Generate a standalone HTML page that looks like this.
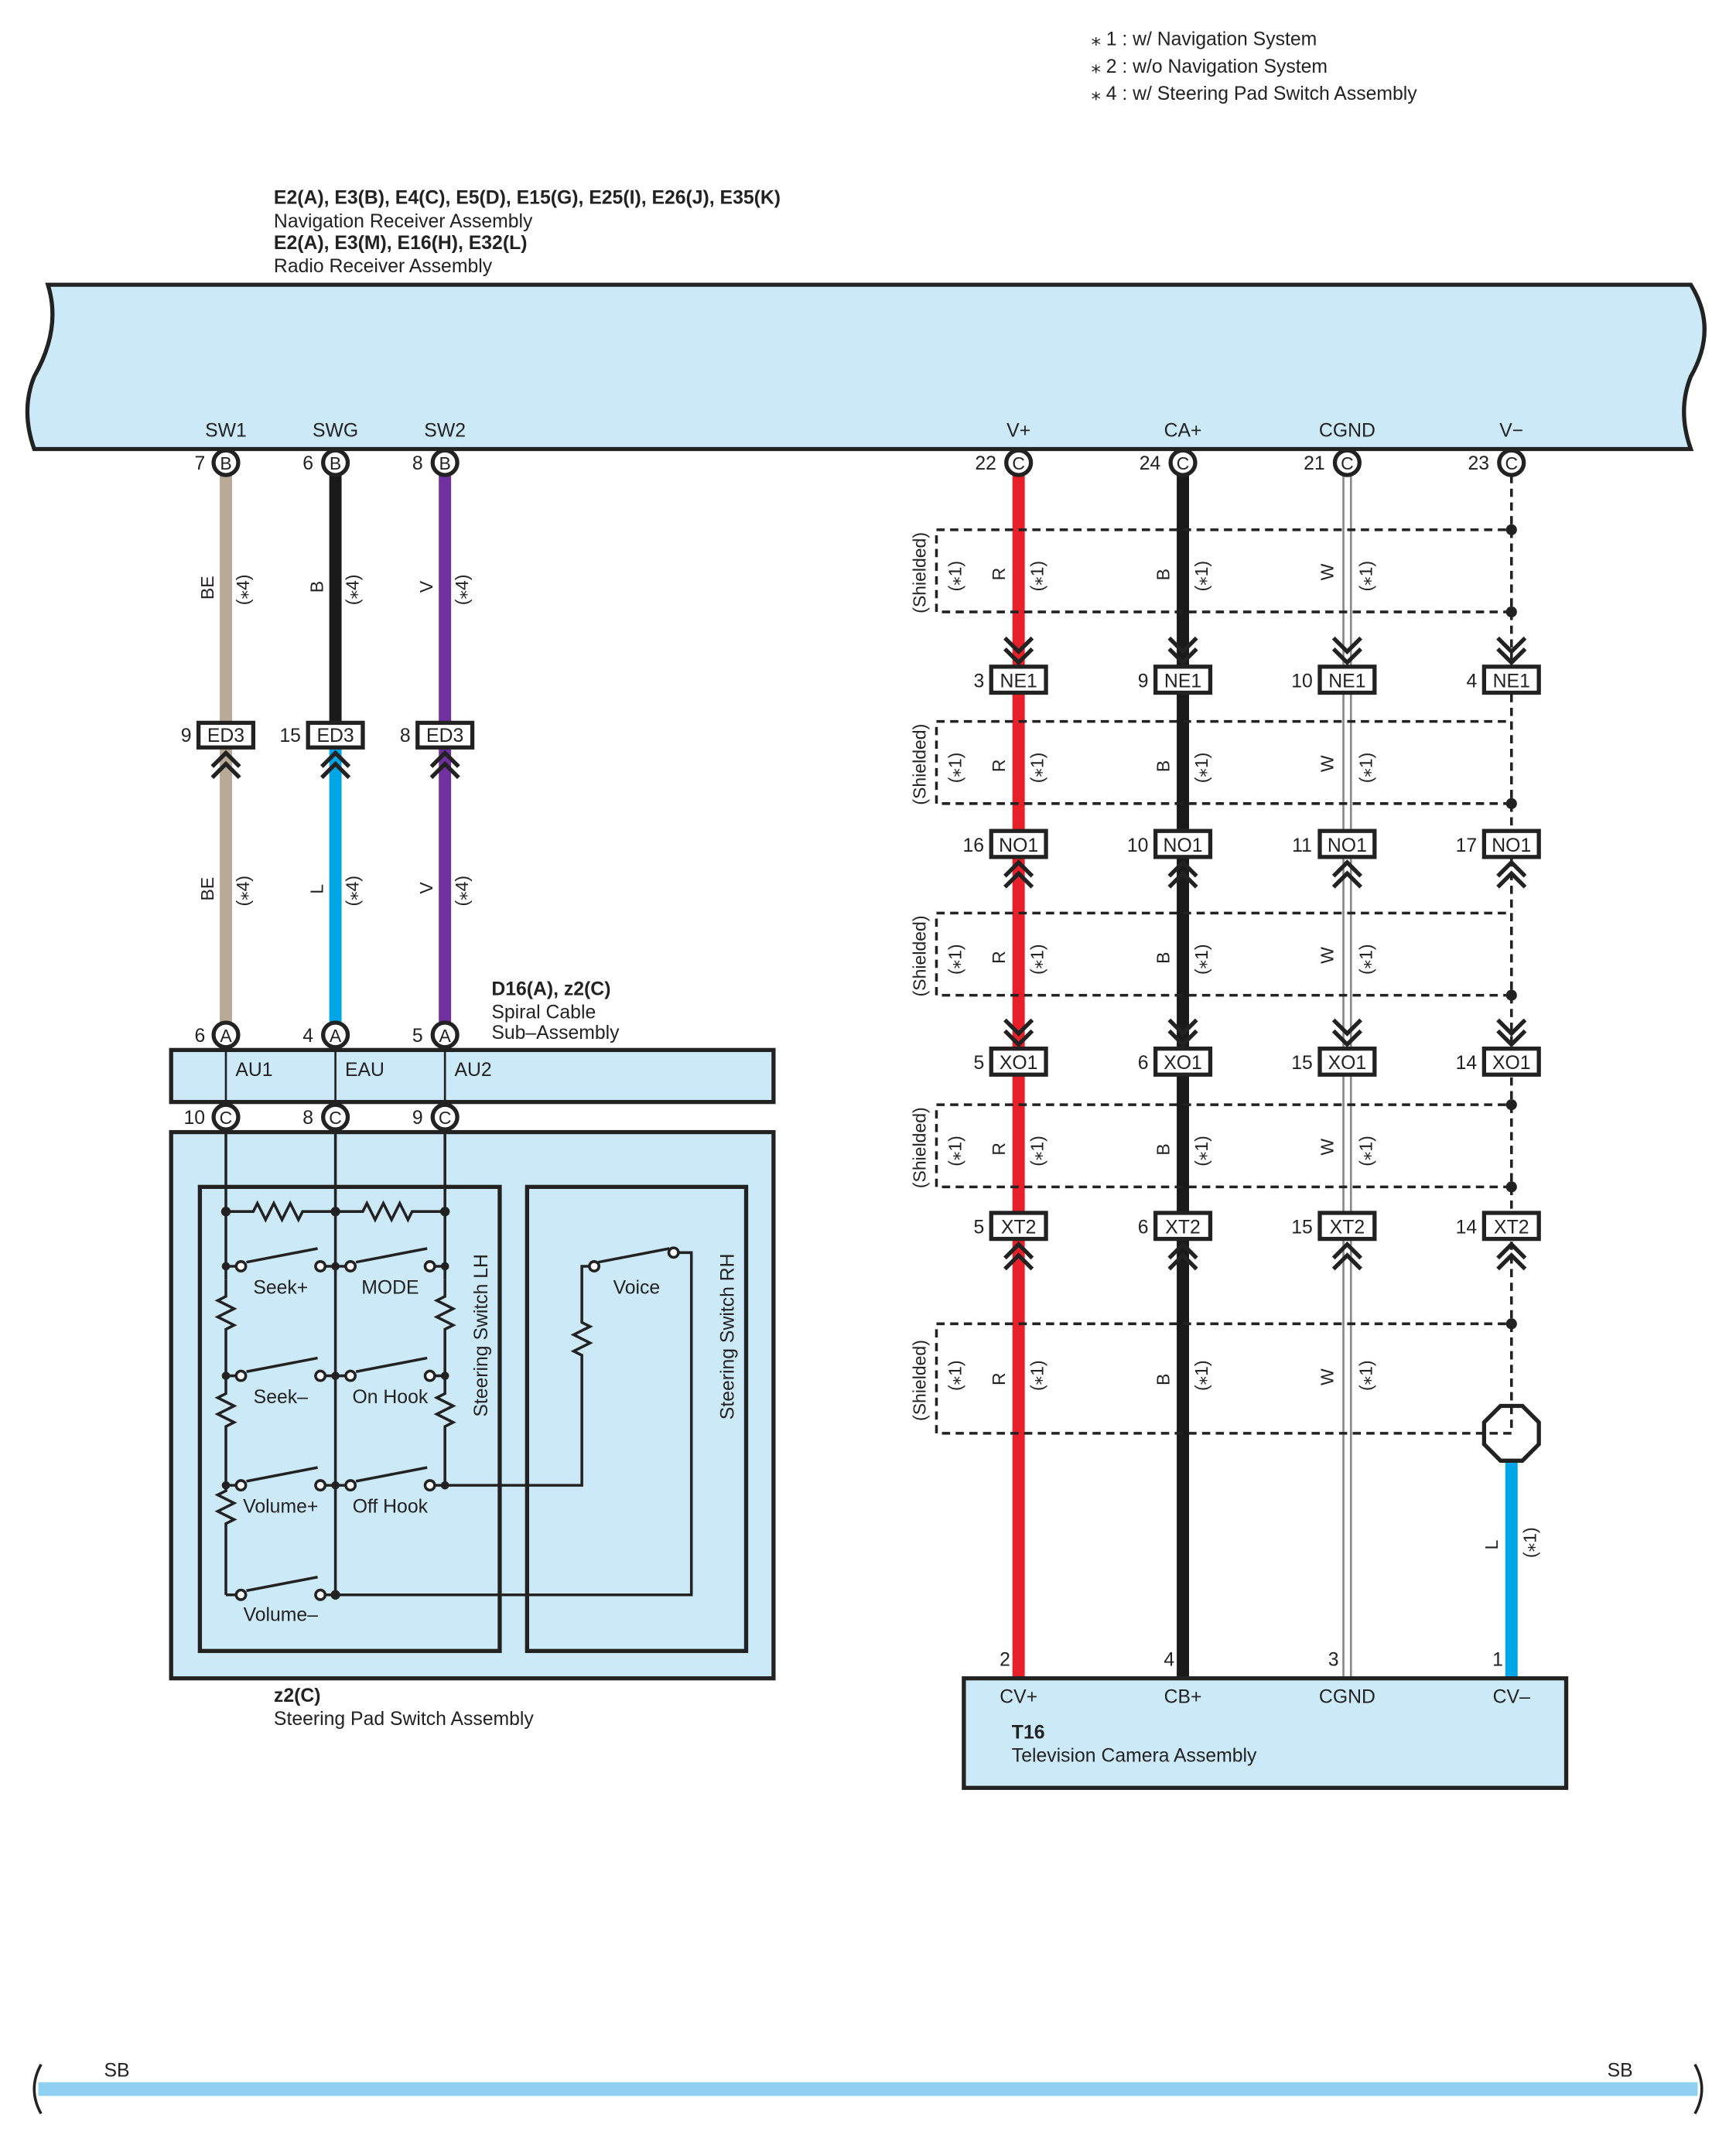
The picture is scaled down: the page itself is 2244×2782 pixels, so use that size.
<!DOCTYPE html>
<html><head><meta charset="utf-8"><style>
html,body{margin:0;padding:0;background:#fff}
svg{display:block}
text{font-family:"Liberation Sans",sans-serif;fill:#222}
</style></head><body>
<svg width="2244" height="2782" viewBox="0 0 1268 1572" preserveAspectRatio="none" xmlns="http://www.w3.org/2000/svg">
<defs>
<g id="chU"><polyline points="-10,12 0,2 10,12" fill="none" stroke="#222" stroke-width="3"/><polyline points="-10,20 0,10 10,20" fill="none" stroke="#222" stroke-width="3"/></g>
<g id="chD"><polyline points="-10,-12 0,-2 10,-12" fill="none" stroke="#222" stroke-width="3"/><polyline points="-10,-20 0,-10 10,-20" fill="none" stroke="#222" stroke-width="3"/></g>
</defs>
<g font-size="14">
<text x="797" y="33">⁎ 1 : w/ Navigation System</text>
<text x="797" y="53">⁎ 2 : w/o Navigation System</text>
<text x="797" y="73">⁎ 4 : w/ Steering Pad Switch Assembly</text>
<text x="200" y="149" font-weight="bold">E2(A), E3(B), E4(C), E5(D), E15(G), E25(I), E26(J), E35(K)</text>
<text x="200" y="166">Navigation Receiver Assembly</text>
<text x="200" y="182" font-weight="bold">E2(A), E3(M), E16(H), E32(L)</text>
<text x="200" y="199">Radio Receiver Assembly</text>
</g>
<path d="M35,208 L1235,208 Q1255,240 1235,275 Q1225,300 1235,328 L25,328 Q15,300 25,275 Q45,240 35,208 Z" fill="#cce9f8" stroke="#222" stroke-width="3"/>
<g font-size="14" text-anchor="middle">
<text x="165" y="319">SW1</text><text x="245" y="319">SWG</text><text x="325" y="319">SW2</text>
<text x="744" y="319">V+</text><text x="864" y="319">CA+</text><text x="984" y="319">CGND</text><text x="1104" y="319">V−</text>
</g>
<line x1="165" y1="347" x2="165" y2="528" stroke="#b9aa98" stroke-width="9"/>
<line x1="245" y1="347" x2="245" y2="528" stroke="#1a1a1a" stroke-width="9"/>
<line x1="325" y1="347" x2="325" y2="528" stroke="#7030a0" stroke-width="9"/>
<line x1="165" y1="546" x2="165" y2="748" stroke="#b9aa98" stroke-width="9"/>
<line x1="245" y1="546" x2="245" y2="748" stroke="#00a6e6" stroke-width="9"/>
<line x1="325" y1="546" x2="325" y2="748" stroke="#7030a0" stroke-width="9"/>
<g font-size="13">
<text transform="translate(156,438) rotate(-90)">BE</text><text transform="translate(182,442) rotate(-90)">(⁎4)</text>
<text transform="translate(236,433) rotate(-90)">B</text><text transform="translate(262,442) rotate(-90)">(⁎4)</text>
<text transform="translate(316,433) rotate(-90)">V</text><text transform="translate(342,442) rotate(-90)">(⁎4)</text>
<text transform="translate(156,658) rotate(-90)">BE</text><text transform="translate(182,662) rotate(-90)">(⁎4)</text>
<text transform="translate(236,653) rotate(-90)">L</text><text transform="translate(262,662) rotate(-90)">(⁎4)</text>
<text transform="translate(316,653) rotate(-90)">V</text><text transform="translate(342,662) rotate(-90)">(⁎4)</text>
</g>
<g font-size="14" text-anchor="middle">
<rect x="145" y="528" width="40" height="18" fill="#fff" stroke="#222" stroke-width="3"/><text x="165" y="542">ED3</text><text x="136" y="542">9</text>
<rect x="225" y="528" width="40" height="18" fill="#fff" stroke="#222" stroke-width="3"/><text x="245" y="542">ED3</text><text x="212" y="542">15</text>
<rect x="305" y="528" width="40" height="18" fill="#fff" stroke="#222" stroke-width="3"/><text x="325" y="542">ED3</text><text x="296" y="542">8</text>
</g>
<use href="#chU" x="165" y="548"/><use href="#chU" x="245" y="548"/><use href="#chU" x="325" y="548"/>
<g font-size="14"><text x="359" y="727" font-weight="bold">D16(A), z2(C)</text><text x="359" y="744">Spiral Cable</text><text x="359" y="759">Sub–Assembly</text></g>
<rect x="125" y="767" width="440" height="38" fill="#cce9f8" stroke="#222" stroke-width="3"/>
<line x1="165" y1="765" x2="165" y2="807" stroke="#222" stroke-width="1.5"/><line x1="245" y1="765" x2="245" y2="807" stroke="#222" stroke-width="1.5"/><line x1="325" y1="765" x2="325" y2="807" stroke="#222" stroke-width="1.5"/>
<g font-size="14"><text x="172" y="786">AU1</text><text x="252" y="786">EAU</text><text x="332" y="786">AU2</text></g>
<rect x="125" y="827" width="440" height="399" fill="#cce9f8" stroke="#222" stroke-width="3"/>
<rect x="146" y="867" width="219" height="339" fill="none" stroke="#222" stroke-width="3"/>
<rect x="385" y="867" width="160" height="339" fill="none" stroke="#222" stroke-width="3"/>
<g font-size="14"><text transform="translate(356,1035) rotate(-90)">Steering Switch LH</text><text transform="translate(536,1037) rotate(-90)">Steering Switch RH</text>
<text x="200" y="1243" font-weight="bold">z2(C)</text><text x="200" y="1260">Steering Pad Switch Assembly</text></g>
<g stroke="#222" stroke-width="2" fill="none">
<line x1="165" y1="825" x2="165" y2="935"/><line x1="245" y1="825" x2="245" y2="1165"/><line x1="325" y1="825" x2="325" y2="935"/>
<path d="M165,885 H185 l3,-6 l6,12 l6,-12 l6,12 l6,-12 l6,12 l3,-6 H265 l3,-6 l6,12 l6,-12 l6,12 l6,-12 l6,12 l3,-6 H325"/>
<path d="M165,935 v12 l-6,3 l12,6 l-12,6 l12,6 l-6,3 v8 v31 v8 l-6,3 l12,6 l-12,6 l12,6 l-6,3 v8 v31 v8 l-6,3 l12,6 l-12,6 l12,6 l-6,3 v8 V1165"/>
<path d="M325,935 v12 l-6,3 l12,6 l-12,6 l12,6 l-6,3 v8 v31 v8 l-6,3 l12,6 l-12,6 l12,6 l-6,3 v8 V1085"/>
<path d="M165,925 H173 M180,922 L232,912 M237,925 H245 M245,925 H253 M260,922 L312,912 M317,925 H325"/>
<path d="M165,1005 H173 M180,1002 L232,992 M237,1005 H245 M245,1005 H253 M260,1002 L312,992 M317,1005 H325"/>
<path d="M165,1085 H173 M180,1082 L232,1072 M237,1085 H245 M245,1085 H253 M260,1082 L312,1072 M317,1085 H425 V990 l-6,-3 l12,-6 l-12,-6 l12,-6 l-6,-3 V925 H430 M437,922 L489,912 M495,915 H505 V1165 H245"/>
<path d="M165,1165 H173 M180,1162 L232,1152 M237,1165 H245"/>
</g>
<g fill="#fff" stroke="#222" stroke-width="2">
<circle cx="176" cy="925" r="3.5"/><circle cx="234" cy="925" r="3.5"/><circle cx="256" cy="925" r="3.5"/><circle cx="314" cy="925" r="3.5"/>
<circle cx="176" cy="1005" r="3.5"/><circle cx="234" cy="1005" r="3.5"/><circle cx="256" cy="1005" r="3.5"/><circle cx="314" cy="1005" r="3.5"/>
<circle cx="176" cy="1085" r="3.5"/><circle cx="234" cy="1085" r="3.5"/><circle cx="256" cy="1085" r="3.5"/><circle cx="314" cy="1085" r="3.5"/>
<circle cx="176" cy="1165" r="3.5"/><circle cx="234" cy="1165" r="3.5"/>
<circle cx="434" cy="925" r="3.5"/><circle cx="492" cy="915" r="3.5"/>
</g>
<g fill="#222"><circle cx="165" cy="885" r="3.5"/><circle cx="245" cy="885" r="3.5"/><circle cx="325" cy="885" r="3.5"/><circle cx="165" cy="925" r="3"/><circle cx="245" cy="925" r="3"/><circle cx="325" cy="925" r="3"/><circle cx="165" cy="1005" r="3"/><circle cx="245" cy="1005" r="3"/><circle cx="325" cy="1005" r="3"/><circle cx="165" cy="1085" r="3"/><circle cx="245" cy="1085" r="3"/><circle cx="325" cy="1085" r="3"/><circle cx="245" cy="1165" r="3.5"/></g>
<g font-size="14" text-anchor="middle">
<text x="205" y="945">Seek+</text><text x="285" y="945">MODE</text><text x="205" y="1025">Seek–</text><text x="285" y="1025">On Hook</text>
<text x="205" y="1105">Volume+</text><text x="285" y="1105">Off Hook</text><text x="205" y="1184">Volume–</text><text x="465" y="945">Voice</text>
</g>
<line x1="744" y1="347" x2="744" y2="1226" stroke="#e8202a" stroke-width="9"/>
<line x1="864" y1="347" x2="864" y2="1226" stroke="#1a1a1a" stroke-width="9"/>
<line x1="984" y1="347" x2="984" y2="1226" stroke="#888" stroke-width="7"/>
<line x1="984" y1="347" x2="984" y2="1226" stroke="#fff" stroke-width="4"/>
<line x1="1104" y1="347" x2="1104" y2="1027" stroke="#222" stroke-width="2" stroke-dasharray="6,4"/>
<line x1="1104" y1="1067" x2="1104" y2="1226" stroke="#00a6e6" stroke-width="9"/>
<polygon points="1096,1027 1112,1027 1124,1039 1124,1055 1112,1067 1096,1067 1084,1055 1084,1039" fill="#fff" stroke="#222" stroke-width="3"/>
<g fill="none" stroke="#222" stroke-width="2" stroke-dasharray="6,4">
<rect x="684" y="387" width="420" height="60"/><rect x="684" y="527" width="420" height="60"/><rect x="684" y="667" width="420" height="60"/><rect x="684" y="807" width="420" height="60"/><rect x="684" y="967" width="420" height="80"/>
</g>
<g fill="#222"><circle cx="1104" cy="387" r="4"/><circle cx="1104" cy="447" r="4"/><circle cx="1104" cy="587" r="4"/><circle cx="1104" cy="727" r="4"/><circle cx="1104" cy="807" r="4"/><circle cx="1104" cy="867" r="4"/><circle cx="1104" cy="967" r="4"/></g>
<g font-size="13">
<text transform="translate(676,448) rotate(-90)">(Shielded)</text><text transform="translate(702,432) rotate(-90)">(⁎1)</text><text transform="translate(734,424) rotate(-90)">R</text><text transform="translate(762,432) rotate(-90)">(⁎1)</text><text transform="translate(854,424) rotate(-90)">B</text><text transform="translate(882,432) rotate(-90)">(⁎1)</text><text transform="translate(974,424) rotate(-90)">W</text><text transform="translate(1002,432) rotate(-90)">(⁎1)</text>
<text transform="translate(676,588) rotate(-90)">(Shielded)</text><text transform="translate(702,572) rotate(-90)">(⁎1)</text><text transform="translate(734,564) rotate(-90)">R</text><text transform="translate(762,572) rotate(-90)">(⁎1)</text><text transform="translate(854,564) rotate(-90)">B</text><text transform="translate(882,572) rotate(-90)">(⁎1)</text><text transform="translate(974,564) rotate(-90)">W</text><text transform="translate(1002,572) rotate(-90)">(⁎1)</text>
<text transform="translate(676,728) rotate(-90)">(Shielded)</text><text transform="translate(702,712) rotate(-90)">(⁎1)</text><text transform="translate(734,704) rotate(-90)">R</text><text transform="translate(762,712) rotate(-90)">(⁎1)</text><text transform="translate(854,704) rotate(-90)">B</text><text transform="translate(882,712) rotate(-90)">(⁎1)</text><text transform="translate(974,704) rotate(-90)">W</text><text transform="translate(1002,712) rotate(-90)">(⁎1)</text>
<text transform="translate(676,868) rotate(-90)">(Shielded)</text><text transform="translate(702,852) rotate(-90)">(⁎1)</text><text transform="translate(734,844) rotate(-90)">R</text><text transform="translate(762,852) rotate(-90)">(⁎1)</text><text transform="translate(854,844) rotate(-90)">B</text><text transform="translate(882,852) rotate(-90)">(⁎1)</text><text transform="translate(974,844) rotate(-90)">W</text><text transform="translate(1002,852) rotate(-90)">(⁎1)</text>
<text transform="translate(676,1038) rotate(-90)">(Shielded)</text><text transform="translate(702,1016) rotate(-90)">(⁎1)</text><text transform="translate(734,1012) rotate(-90)">R</text><text transform="translate(762,1016) rotate(-90)">(⁎1)</text><text transform="translate(854,1012) rotate(-90)">B</text><text transform="translate(882,1016) rotate(-90)">(⁎1)</text><text transform="translate(974,1012) rotate(-90)">W</text><text transform="translate(1002,1016) rotate(-90)">(⁎1)</text>
<text transform="translate(1094,1132) rotate(-90)">L</text><text transform="translate(1122,1138) rotate(-90)">(⁎1)</text>
</g>
<use href="#chD" x="744" y="486"/><use href="#chD" x="864" y="486"/><use href="#chD" x="984" y="486"/><use href="#chD" x="1104" y="486"/>
<use href="#chU" x="744" y="628"/><use href="#chU" x="864" y="628"/><use href="#chU" x="984" y="628"/><use href="#chU" x="1104" y="628"/>
<use href="#chD" x="744" y="765"/><use href="#chD" x="864" y="765"/><use href="#chD" x="984" y="765"/><use href="#chD" x="1104" y="765"/>
<use href="#chU" x="744" y="907"/><use href="#chU" x="864" y="907"/><use href="#chU" x="984" y="907"/><use href="#chU" x="1104" y="907"/>
<g font-size="14" text-anchor="middle">
<rect x="724" y="487" width="40" height="19" fill="#fff" stroke="#222" stroke-width="3"/><text x="744" y="502">NE1</text><text x="715" y="502">3</text>
<rect x="844" y="487" width="40" height="19" fill="#fff" stroke="#222" stroke-width="3"/><text x="864" y="502">NE1</text><text x="835" y="502">9</text>
<rect x="964" y="487" width="40" height="19" fill="#fff" stroke="#222" stroke-width="3"/><text x="984" y="502">NE1</text><text x="951" y="502">10</text>
<rect x="1084" y="487" width="40" height="19" fill="#fff" stroke="#222" stroke-width="3"/><text x="1104" y="502">NE1</text><text x="1075" y="502">4</text>
<rect x="724" y="607" width="40" height="19" fill="#fff" stroke="#222" stroke-width="3"/><text x="744" y="622">NO1</text><text x="711" y="622">16</text>
<rect x="844" y="607" width="40" height="19" fill="#fff" stroke="#222" stroke-width="3"/><text x="864" y="622">NO1</text><text x="831" y="622">10</text>
<rect x="964" y="607" width="40" height="19" fill="#fff" stroke="#222" stroke-width="3"/><text x="984" y="622">NO1</text><text x="951" y="622">11</text>
<rect x="1084" y="607" width="40" height="19" fill="#fff" stroke="#222" stroke-width="3"/><text x="1104" y="622">NO1</text><text x="1071" y="622">17</text>
<rect x="724" y="766" width="40" height="19" fill="#fff" stroke="#222" stroke-width="3"/><text x="744" y="781">XO1</text><text x="715" y="781">5</text>
<rect x="844" y="766" width="40" height="19" fill="#fff" stroke="#222" stroke-width="3"/><text x="864" y="781">XO1</text><text x="835" y="781">6</text>
<rect x="964" y="766" width="40" height="19" fill="#fff" stroke="#222" stroke-width="3"/><text x="984" y="781">XO1</text><text x="951" y="781">15</text>
<rect x="1084" y="766" width="40" height="19" fill="#fff" stroke="#222" stroke-width="3"/><text x="1104" y="781">XO1</text><text x="1071" y="781">14</text>
<rect x="724" y="886" width="40" height="19" fill="#fff" stroke="#222" stroke-width="3"/><text x="744" y="901">XT2</text><text x="715" y="901">5</text>
<rect x="844" y="886" width="40" height="19" fill="#fff" stroke="#222" stroke-width="3"/><text x="864" y="901">XT2</text><text x="835" y="901">6</text>
<rect x="964" y="886" width="40" height="19" fill="#fff" stroke="#222" stroke-width="3"/><text x="984" y="901">XT2</text><text x="951" y="901">15</text>
<rect x="1084" y="886" width="40" height="19" fill="#fff" stroke="#222" stroke-width="3"/><text x="1104" y="901">XT2</text><text x="1071" y="901">14</text>
</g>
<g font-size="13" text-anchor="middle">
<g fill="#fff" stroke="#222" stroke-width="3">
<circle cx="165" cy="338" r="9"/><circle cx="245" cy="338" r="9"/><circle cx="325" cy="338" r="9"/>
<circle cx="744" cy="338" r="9"/><circle cx="864" cy="338" r="9"/><circle cx="984" cy="338" r="9"/><circle cx="1104" cy="338" r="9"/>
<circle cx="165" cy="756" r="9"/><circle cx="245" cy="756" r="9"/><circle cx="325" cy="756" r="9"/>
<circle cx="165" cy="816" r="9"/><circle cx="245" cy="816" r="9"/><circle cx="325" cy="816" r="9"/>
</g>
<text x="165" y="343">B</text><text x="245" y="343">B</text><text x="325" y="343">B</text>
<text x="744" y="343">C</text><text x="864" y="343">C</text><text x="984" y="343">C</text><text x="1104" y="343">C</text>
<text x="165" y="761">A</text><text x="245" y="761">A</text><text x="325" y="761">A</text>
<text x="165" y="821">C</text><text x="245" y="821">C</text><text x="325" y="821">C</text>
<g font-size="14"><text x="146" y="343">7</text><text x="225" y="343">6</text><text x="305" y="343">8</text>
<text x="720" y="343">22</text><text x="840" y="343">24</text><text x="960" y="343">21</text><text x="1080" y="343">23</text>
<text x="146" y="761">6</text><text x="225" y="761">4</text><text x="305" y="761">5</text>
<text x="142" y="821">10</text><text x="225" y="821">8</text><text x="305" y="821">9</text></g>
</g>
<rect x="704" y="1226" width="440" height="80" fill="#cce9f8" stroke="#222" stroke-width="3"/>
<g font-size="14"><text x="734" y="1217" text-anchor="middle">2</text><text x="854" y="1217" text-anchor="middle">4</text><text x="974" y="1217" text-anchor="middle">3</text><text x="1094" y="1217" text-anchor="middle">1</text>
<text x="744" y="1244" text-anchor="middle">CV+</text><text x="864" y="1244" text-anchor="middle">CB+</text><text x="984" y="1244" text-anchor="middle">CGND</text><text x="1104" y="1244" text-anchor="middle">CV–</text>
<text x="739" y="1270" font-weight="bold">T16</text><text x="739" y="1287">Television Camera Assembly</text></g>
<line x1="28" y1="1526" x2="1240" y2="1526" stroke="#8fd0f0" stroke-width="10"/>
<path d="M30,1508 Q20,1526 30,1544 M1238,1508 Q1248,1526 1238,1544" fill="none" stroke="#222" stroke-width="2"/>
<g font-size="14"><text x="76" y="1517">SB</text><text x="1174" y="1517">SB</text></g>
</svg>
</body></html>
